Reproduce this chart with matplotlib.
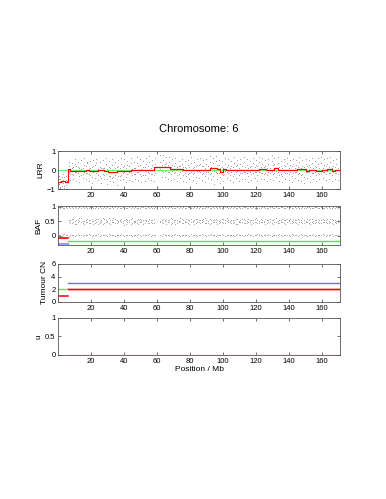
import matplotlib
matplotlib.use("Agg")
import matplotlib.pyplot as plt
import numpy as np

plt.rcParams["font.family"] = ["Liberation Sans", "DejaVu Sans"]

nan = np.nan

# Probe positions (Mb)
lbr_pos = [
    0.4, 1.3, 2.2, 3.1, 3.9, 4.8, 5.6, 6.5, 7.4, 8.4,
    9.3, 10.2, 11.1, 12.1, 13.0, 14.0, 14.9, 15.8, 16.8, 17.7,
    18.6, 19.6, 20.5, 21.5, 22.4, 23.3, 24.3, 25.2, 26.1, 27.1,
    28.0, 29.0, 29.9, 30.8, 31.8, 32.7, 33.6, 34.6, 35.5, 36.5,
    37.4, 38.3, 39.3, 40.2, 41.1, 42.1, 43.0, 44.0, 44.9, 45.8,
    46.8, 47.7, 48.6, 49.6, 50.5, 51.5, 52.4, 53.3, 54.3, 55.2,
    56.1, 57.1, 58.0, 58.9, 61.8, 62.7, 63.7, 64.6, 65.5, 66.5,
    67.4, 68.3, 69.3, 70.2, 71.1, 72.1, 73.0, 74.0, 74.9, 75.8,
    76.8, 77.7, 78.6, 79.6, 80.5, 81.5, 82.4, 83.3, 84.3, 85.2,
    86.1, 87.1, 88.0, 89.0, 89.9, 90.8, 91.8, 92.7, 93.6, 94.6,
    95.5, 96.5, 97.4, 98.3, 99.3, 100.2, 101.1, 102.1, 103.0, 104.0,
    104.9, 105.8, 106.8, 107.7, 108.6, 109.6, 110.5, 111.5, 112.4, 113.3,
    114.3, 115.2, 116.1, 117.1, 118.0, 119.0, 119.9, 120.8, 121.8, 122.7,
    123.6, 124.6, 125.5, 126.5, 127.4, 128.3, 129.3, 130.2, 131.1, 132.1,
    133.0, 134.0, 134.9, 135.8, 136.8, 137.7, 138.6, 139.6, 140.5, 141.5,
    142.4, 143.3, 144.3, 145.2, 146.1, 147.1, 148.0, 149.0, 149.9, 150.8,
    151.8, 152.7, 153.6, 154.6, 155.5, 156.5, 157.4, 158.3, 159.3, 160.2,
    161.1, 162.1, 163.0, 164.0, 164.9, 165.8, 166.8, 167.7, 168.6, 169.6,
    170.5,
]

# LRR scatter (three probes per position)
lbr_a = [
    -0.71, -0.45, -0.82, -0.52, -0.38, -0.77, -0.60, 0.21, -0.18, 0.12,
    -0.25, 0.33, -0.09, 0.18, -0.31, 0.07, -0.22, 0.29, -0.14, 0.41,
    -0.19, 0.11, -0.36, 0.24, -0.05, 0.38, -0.27, 0.15, -0.41, 0.09,
    -0.23, 0.31, -0.44, 0.17, -0.30, 0.26, -0.38, 0.12, -0.49, 0.20,
    -0.29, 0.34, -0.16, 0.22, -0.35, 0.28, -0.12, 0.36, -0.27, 0.14,
    -0.21, 0.39, -0.08, 0.25, -0.33, 0.19, -0.26, 0.30, -0.11, 0.42,
    -0.18, 0.27, -0.24, 0.33, 0.45, -0.06, 0.52, -0.02, 0.38, -0.12,
    0.41, -0.20, 0.29, -0.15, 0.37, -0.28, 0.22, -0.09, 0.33, -0.24,
    0.18, -0.31, 0.26, -0.13, 0.40, -0.22, 0.15, -0.34, 0.28, -0.07,
    0.35, -0.19, 0.24, -0.29, 0.31, -0.10, 0.43, -0.16, 0.38, -0.05,
    0.46, -0.14, 0.27, -0.36, 0.19, -0.27, 0.34, -0.11, 0.29, -0.23,
    0.21, -0.32, 0.37, -0.08, 0.25, -0.26, 0.32, -0.17, 0.44, -0.12,
    0.28, -0.30, 0.19, -0.21, 0.36, -0.09, 0.27, -0.25, 0.41, -0.14,
    0.33, -0.18, 0.24, -0.28, 0.30, -0.13, 0.47, -0.20, 0.35, -0.06,
    0.39, -0.24, 0.21, -0.33, 0.28, -0.15, 0.36, -0.22, 0.25, -0.31,
    0.32, -0.11, 0.27, -0.19, 0.42, -0.26, 0.23, -0.35, 0.30, -0.08,
    0.26, -0.29, 0.37, -0.14, 0.21, -0.24, 0.33, -0.18, 0.39, -0.10,
    0.29, -0.22, 0.35, -0.16, 0.43, -0.27, 0.24, -0.13, 0.31, -0.20,
    0.18,
]
lbr_b = [
    -0.48, -0.88, -0.35, -0.67, -0.93, -0.29, -0.55, -0.12, 0.06, -0.20,
    0.15, -0.11, 0.24, -0.17, 0.09, -0.26, 0.13, -0.08, 0.21, -0.15,
    0.06, -0.23, 0.17, -0.10, 0.27, -0.14, 0.08, -0.29, 0.12, -0.19,
    0.10, -0.21, 0.05, -0.33, 0.14, -0.40, 0.07, -0.26, 0.16, -0.31,
    0.09, -0.24, 0.19, -0.12, 0.11, -0.20, 0.23, -0.15, 0.08, -0.22,
    0.14, -0.09, 0.21, -0.18, 0.07, -0.25, 0.16, -0.06, 0.24, -0.13,
    0.12, -0.19, 0.08, -0.14, 0.05, 0.29, -0.08, 0.34, 0.02, 0.26,
    -0.10, 0.19, -0.06, 0.24, -0.12, 0.15, -0.18, 0.21, -0.04, 0.17,
    -0.14, 0.10, -0.21, 0.18, -0.09, 0.13, -0.16, 0.22, -0.07, 0.27,
    -0.12, 0.20, -0.15, 0.12, -0.08, 0.23, -0.19, 0.16, -0.33, 0.11,
    -0.09, 0.25, -0.13, 0.10, -0.20, 0.14, -0.07, 0.19, -0.16, 0.12,
    -0.11, 0.16, -0.18, 0.22, -0.06, 0.13, -0.14, 0.20, -0.10, 0.17,
    -0.15, 0.11, -0.09, 0.24, -0.17, 0.15, -0.12, 0.21, -0.08, 0.18,
    -0.13, 0.19, -0.16, 0.09, -0.11, 0.14, -0.07, 0.29, -0.14, 0.12,
    -0.10, 0.17, -0.19, 0.13, -0.08, 0.22, -0.15, 0.11, -0.12, 0.20,
    -0.16, 0.14, -0.09, 0.18, -0.13, 0.10, -0.21, 0.16, -0.11, 0.23,
    -0.08, 0.15, -0.17, 0.12, -0.10, 0.19, -0.14, 0.09, -0.18, 0.13,
    -0.12, 0.21, -0.07, 0.16, -0.15, 0.11, -0.09, 0.18, -0.13, 0.14,
    -0.06,
]
lbr_c = [
    -0.30, -0.95, -0.62, -0.20, -0.85, -0.50, -0.98, 0.45, -0.52, 0.38,
    -0.47, 0.58, -0.55, 0.44, -0.62, 0.51, -0.40, 0.63, -0.49, 0.36,
    -0.58, 0.47, -0.66, 0.55, -0.43, 0.60, -0.52, 0.41, -0.70, 0.53,
    -0.46, 0.62, -0.72, 0.49, -0.58, 0.57, -0.65, 0.44, -0.78, 0.51,
    -0.54, 0.66, -0.45, 0.59, -0.61, 0.48, -0.50, 0.64, -0.56, 0.42,
    -0.48, 0.70, -0.52, 0.58, -0.60, 0.46, -0.55, 0.62, -0.41, 0.73,
    -0.50, 0.56, -0.57, 0.65, 0.78, -0.35, 0.82, -0.38, 0.67, -0.44,
    0.68, -0.51, 0.57, -0.46, 0.66, -0.58, 0.49, -0.42, 0.61, -0.55,
    0.47, -0.63, 0.55, -0.45, 0.71, -0.52, 0.44, -0.66, 0.58, -0.39,
    0.64, -0.50, 0.53, -0.61, 0.59, -0.43, 0.74, -0.47, 0.66, -0.71,
    0.76, -0.45, 0.56, -0.68, 0.48, -0.57, 0.63, -0.42, 0.58, -0.54,
    0.50, -0.64, 0.67, -0.40, 0.54, -0.56, 0.61, -0.48, 0.72, -0.44,
    0.57, -0.62, 0.48, -0.51, 0.65, -0.41, 0.56, -0.57, 0.70, -0.46,
    0.62, -0.49, 0.53, -0.59, 0.60, -0.45, 0.79, -0.52, 0.64, -0.38,
    0.68, -0.55, 0.50, -0.64, 0.57, -0.47, 0.65, -0.53, 0.54, -0.62,
    0.61, -0.43, 0.56, -0.50, 0.71, -0.58, 0.52, -0.67, 0.59, -0.40,
    0.55, -0.60, 0.66, -0.46, 0.50, -0.56, 0.62, -0.49, 0.68, -0.42,
    0.58, -0.53, 0.64, -0.48, 0.72, -0.59, 0.53, -0.45, 0.60, -0.51,
    0.47,
]

# BAF scatter: heterozygous band (absent in the LOH region) and homozygous bands
baf_mid = [
    nan, nan, nan, nan, nan, nan, nan, 0.47, 0.55, 0.44,
    0.58, 0.50, 0.42, 0.53, 0.61, 0.46, 0.52, 0.39, 0.56, 0.48,
    0.54, 0.43, 0.59, 0.50, 0.45, 0.57, 0.41, 0.52, 0.48, 0.60,
    0.44, 0.55, 0.49, 0.62, 0.40, 0.53, 0.47, 0.58, 0.43, 0.51,
    0.56, 0.46, 0.52, 0.38, 0.57, 0.49, 0.54, 0.42, 0.60, 0.47,
    0.51, 0.44, 0.58, 0.48, 0.53, 0.41, 0.56, 0.50, 0.45, 0.59,
    0.48, 0.54, 0.43, nan, 0.52, 0.46, 0.57, 0.50, 0.42, 0.55,
    0.49, 0.60, 0.45, 0.53, 0.40, 0.56, 0.47, 0.51, 0.58, 0.44,
    0.52, 0.46, 0.55, 0.41, 0.59, 0.49, 0.53, 0.43, 0.57, 0.48,
    0.45, 0.54, 0.50, 0.61, 0.44, 0.52, 0.39, 0.56, 0.48, 0.53,
    0.57, 0.42, 0.51, 0.47, 0.58, 0.45, 0.53, 0.60, 0.46, 0.50,
    0.43, 0.55, 0.49, 0.57, 0.41, 0.52, 0.47, 0.59, 0.44, 0.54,
    0.50, 0.46, 0.56, 0.42, 0.53, 0.48, 0.61, 0.45, 0.51, 0.57,
    0.47, 0.52, 0.40, 0.55, 0.49, 0.58, 0.44, 0.53, 0.46, 0.60,
    0.51, 0.43, 0.56, 0.48, 0.54, 0.41, 0.57, 0.50, 0.45, 0.52,
    0.59, 0.46, 0.53, 0.42, 0.55, 0.49, 0.60, 0.44, 0.51, 0.47,
    0.54, 0.40, 0.57, 0.50, 0.45, 0.56, 0.48, 0.53, 0.43, 0.58,
    0.49, 0.55, 0.44, 0.52, 0.47, 0.59, 0.42, 0.54, 0.50, 0.46,
    0.53,
]
baf_mid2 = [
    nan, nan, nan, nan, nan, nan, nan, 0.53, 0.45, 0.57,
    0.49, 0.41, 0.55, 0.47, 0.52, 0.60, 0.44, 0.51, 0.46, 0.58,
    0.43, 0.56, 0.50, 0.42, 0.54, 0.48, 0.59, 0.45, 0.53, 0.40,
    0.57, 0.47, 0.52, 0.44, 0.55, 0.49, 0.61, 0.43, 0.56, 0.46,
    0.50, 0.58, 0.45, 0.54, 0.41, 0.53, 0.47, 0.57, 0.44, 0.52,
    0.46, 0.55, 0.42, 0.59, 0.48, 0.54, 0.43, 0.56, 0.51, 0.45,
    0.55, 0.44, 0.58, nan, 0.47, 0.56, 0.43, 0.53, 0.59, 0.46,
    0.54, 0.42, 0.57, 0.48, 0.55, 0.44, 0.52, 0.60, 0.45, 0.53,
    0.47, 0.57, 0.43, 0.55, 0.46, 0.52, 0.41, 0.58, 0.49, 0.54,
    0.56, 0.47, 0.59, 0.44, 0.53, 0.45, 0.57, 0.43, 0.55, 0.48,
    0.46, 0.54, 0.43, 0.56, 0.49, 0.58, 0.44, 0.52, 0.55, 0.47,
    0.56, 0.45, 0.53, 0.42, 0.57, 0.48, 0.55, 0.46, 0.58, 0.43,
    0.45, 0.57, 0.48, 0.55, 0.44, 0.58, 0.46, 0.54, 0.43, 0.49,
    0.55, 0.46, 0.58, 0.44, 0.53, 0.47, 0.56, 0.42, 0.57, 0.48,
    0.44, 0.56, 0.47, 0.59, 0.45, 0.53, 0.46, 0.55, 0.58, 0.43,
    0.47, 0.55, 0.44, 0.57, 0.46, 0.54, 0.43, 0.56, 0.48, 0.58,
    0.45, 0.57, 0.46, 0.43, 0.55, 0.47, 0.59, 0.44, 0.56, 0.49,
    0.54, 0.46, 0.57, 0.45, 0.58, 0.43, 0.55, 0.47, 0.44, 0.56,
    0.48,
]
baf_hi = [
    0.99, 0.97, 1.00, 0.98, 0.96, 0.99, 0.97, 1.00, 0.98, 0.99,
    0.97, 1.00, 0.98, 0.96, 0.99, 0.98, 1.00, 0.97, 0.99, 0.98,
    0.96, 0.99, 1.00, 0.97, 0.98, 0.99, 0.96, 1.00, 0.98, 0.97,
    0.99, 0.98, 1.00, 0.96, 0.97, 0.99, 0.98, 1.00, 0.97, 0.99,
    0.98, 0.96, 0.99, 1.00, 0.97, 0.98, 0.99, 0.97, 1.00, 0.98,
    0.99, 0.97, 0.96, 0.98, 1.00, 0.99, 0.97, 0.98, 0.99, 0.96,
    1.00, 0.98, 0.97, 0.99, 0.98, 1.00, 0.96, 0.99, 0.97, 0.98,
    0.99, 1.00, 0.97, 0.98, 0.96, 0.99, 0.98, 1.00, 0.97, 0.99,
    0.98, 0.97, 0.99, 1.00, 0.96, 0.98, 0.99, 0.97, 1.00, 0.98,
    0.99, 0.96, 0.98, 0.97, 1.00, 0.99, 0.98, 0.96, 0.99, 0.97,
    1.00, 0.98, 0.99, 0.97, 0.96, 0.98, 1.00, 0.99, 0.97, 0.98,
    0.99, 0.97, 1.00, 0.98, 0.96, 0.99, 0.98, 0.97, 1.00, 0.99,
    0.98, 0.96, 0.99, 0.97, 1.00, 0.98, 0.99, 0.96, 0.98, 0.97,
    1.00, 0.99, 0.98, 0.97, 0.96, 0.99, 1.00, 0.98, 0.97, 0.99,
    0.98, 0.96, 0.99, 1.00, 0.97, 0.98, 0.99, 0.97, 1.00, 0.96,
    0.98, 0.99, 0.97, 1.00, 0.98, 0.96, 0.99, 0.98, 0.97, 1.00,
    0.99, 0.97, 0.98, 0.96, 1.00, 0.99, 0.97, 0.98, 0.99, 0.96,
    0.98, 1.00, 0.97, 0.99, 0.98, 0.96, 1.00, 0.97, 0.99, 0.98,
    0.99,
]
baf_lo = [
    0.01, 0.03, 0.00, 0.02, 0.04, 0.01, 0.03, 0.00, 0.02, 0.01,
    0.03, 0.00, 0.02, 0.04, 0.01, 0.02, 0.00, 0.03, 0.01, 0.02,
    0.04, 0.01, 0.00, 0.03, 0.02, 0.01, 0.04, 0.00, 0.02, 0.03,
    0.01, 0.02, 0.00, 0.04, 0.03, 0.01, 0.02, 0.00, 0.03, 0.01,
    0.02, 0.04, 0.01, 0.00, 0.03, 0.02, 0.01, 0.03, 0.00, 0.02,
    0.01, 0.03, 0.04, 0.02, 0.00, 0.01, 0.03, 0.02, 0.01, 0.04,
    0.00, 0.02, 0.03, 0.01, 0.02, 0.00, 0.04, 0.01, 0.03, 0.02,
    0.01, 0.00, 0.03, 0.02, 0.04, 0.01, 0.02, 0.00, 0.03, 0.01,
    0.02, 0.03, 0.01, 0.00, 0.04, 0.02, 0.01, 0.03, 0.00, 0.02,
    0.01, 0.04, 0.02, 0.03, 0.00, 0.01, 0.02, 0.04, 0.01, 0.03,
    0.00, 0.02, 0.01, 0.03, 0.04, 0.02, 0.00, 0.01, 0.03, 0.02,
    0.01, 0.03, 0.00, 0.02, 0.04, 0.01, 0.02, 0.03, 0.00, 0.01,
    0.02, 0.04, 0.01, 0.03, 0.00, 0.02, 0.01, 0.04, 0.02, 0.03,
    0.00, 0.01, 0.02, 0.03, 0.04, 0.01, 0.00, 0.02, 0.03, 0.01,
    0.02, 0.04, 0.01, 0.00, 0.03, 0.02, 0.01, 0.03, 0.00, 0.04,
    0.02, 0.01, 0.03, 0.00, 0.02, 0.04, 0.01, 0.02, 0.03, 0.00,
    0.01, 0.03, 0.02, 0.04, 0.00, 0.01, 0.03, 0.02, 0.01, 0.04,
    0.02, 0.00, 0.03, 0.01, 0.02, 0.04, 0.00, 0.03, 0.01, 0.02,
    0.01,
]

# Segmented LRR (red step line): segment start positions and values
seg_edges = [0.2, 2.0, 4.0, 6.0, 7.0, 12, 17, 19, 24, 28, 30, 36, 40, 44, 52,
             58, 68, 76, 92, 96, 98, 100, 102, 110, 118, 122, 126, 131, 133,
             136, 145, 150, 152, 156, 160, 163, 166, 168, 170.8]
seg_vals = [-0.64, -0.58, -0.62, 0.05, -0.03, -0.02, 0.03, -0.03, 0.0, -0.06,
            -0.08, -0.05, -0.03, 0.02, 0.0, 0.15, 0.05, 0.03, 0.10, 0.05,
            -0.10, 0.08, 0.0, 0.02, 0.03, 0.06, 0.03, 0.10, 0.03, 0.02, 0.04,
            -0.05, 0.03, -0.03, 0.02, 0.05, -0.02, 0.03]

# Copy-number segments: (start, end)
seg1 = (0.2, 6.0)
seg2 = (6.0, 170.8)
baf_red, baf_green, baf_blue = -0.1, -0.2, -0.3
cn_total = [2, 3]     # green (seg1), blue (seg2)
cn_minor = [1, 2]     # red
u_val = 0

x_min, x_max = 0.2, 170.8
xticks = [20, 40, 60, 80, 100, 120, 140, 160]

fig = plt.figure(figsize=(3.86, 4.99), dpi=100)
left, width = 0.151, 0.730
ax_lrr = fig.add_axes([left, 0.621, width, 0.076])
ax_baf = fig.add_axes([left, 0.509, width, 0.078])
ax_cn = fig.add_axes([left, 0.395, width, 0.076])
ax_u = fig.add_axes([left, 0.289, width, 0.074])

gray = "#9a9a9a"
for vals in [lbr_a, lbr_b, lbr_c]:
    ax_lrr.plot(lbr_pos, vals, ".", color=gray, ms=1.4, mew=0)
ax_lrr.axhline(0, color="#66ff66", lw=0.8)
ax_lrr.step(seg_edges, seg_vals + [seg_vals[-1]], where="post", color="red", lw=0.9)
ax_lrr.set_ylim(-1, 1)
ax_lrr.set_yticks([-1, 0, 1])
ax_lrr.set_ylabel("LRR")
ax_lrr.set_title("Chromosome: 6", fontsize=8, pad=14)

for vals in [baf_hi, baf_mid, baf_mid2, baf_lo]:
    ax_baf.plot(lbr_pos, vals, ".", color=gray, ms=1.3, mew=0)
ax_baf.plot(seg1, [baf_red] * 2, color="red", lw=1.2)
ax_baf.plot(seg1, [baf_blue] * 2, color="#9a9aff", lw=1.6)
ax_baf.plot(seg2, [baf_green] * 2, color="#44ee44", lw=1.0)
ax_baf.set_ylim(-0.33, 1.03)
ax_baf.set_yticks([0, 0.5, 1])
ax_baf.set_yticklabels(["0", "0.5", "1"])
ax_baf.set_ylabel("BAF")

ax_cn.plot(seg1, [cn_total[0]] * 2, color="#55ee55", lw=1.0)
ax_cn.plot(seg1, [cn_minor[0]] * 2, color="red", lw=1.1)
ax_cn.plot(seg2, [cn_total[1]] * 2, color="#7070ff", lw=1.0)
ax_cn.plot(seg2, [cn_minor[1]] * 2, color="#ffcccc", lw=2.0)
ax_cn.plot(seg2, [cn_minor[1]] * 2, color="red", lw=1.0)
ax_cn.set_ylim(0, 6)
ax_cn.set_yticks([0, 2, 4, 6])
ax_cn.set_ylabel("Tumour CN")

ax_u.plot(seg2, [u_val] * 2, color="#ffaaaa", lw=1.0)
ax_u.set_ylim(0, 1)
ax_u.set_yticks([0, 0.5, 1])
ax_u.set_yticklabels(["0", "0.5", "1"])
ax_u.set_ylabel("u")
ax_u.set_xlabel("Position / Mb", fontsize=6, labelpad=1)

for ax in [ax_lrr, ax_baf, ax_cn, ax_u]:
    ax.set_xlim(x_min, x_max)
    ax.set_xticks(xticks)
    ax.tick_params(direction="in", length=2, width=0.5, labelsize=5.5,
                   top=True, right=True, pad=2, colors="#333333",
                   labelcolor="black")
    ax.yaxis.label.set_size(6)
    ax.yaxis.labelpad = 2
    for s in ax.spines.values():
        s.set_linewidth(0.6)
        s.set_color("#555555")

fig.savefig("out.png", dpi=100)
